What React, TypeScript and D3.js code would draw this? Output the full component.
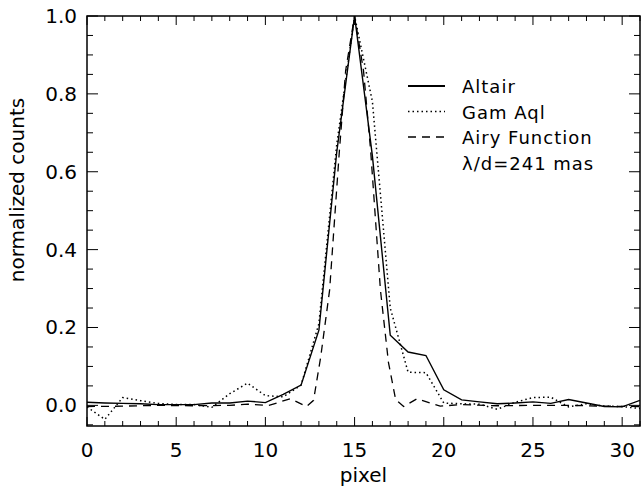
import React from 'react';
import * as d3 from 'd3';

// pixel index 0..31
const pixels = d3.range(0, 32);

// Altair (solid)
const altair = [
  0.008, 0.006, 0.005, 0.004, 0.002, 0.002, 0.002, 0.006, 0.006, 0.011,
  0.007, 0.028, 0.052, 0.193, 0.65, 1.0, 0.64, 0.18, 0.137, 0.128,
  0.04, 0.014, 0.009, 0.004, 0.006, 0.009, 0.005, 0.015, 0.006, -0.003,
  -0.004, 0.013,
];

// Gam Aql (dotted)
const gamAql = [
  -0.004, -0.036, 0.02, 0.012, 0.005, 0.002, 0.002, -0.005, 0.03, 0.057,
  0.025, 0.022, 0.052, 0.21, 0.67, 1.0, 0.78, 0.25, 0.085, 0.084,
  0.006, 0.004, 0.003, -0.01, 0.008, 0.02, 0.021, -0.004, 0.004, -0.002,
  -0.003, -0.008,
];

// Airy function (dashed), sampled finer than the pixels
const airyX = [
  0, 2, 4, 6, 8, 9, 10.2, 11.4, 12.3, 12.7, 13.1, 13.6, 14.15, 14.5, 15,
  15.5, 15.9, 16.45, 16.9, 17.3, 17.75, 18.5, 19.8, 21, 23, 25, 27, 29, 31,
];
const airyY = [
  -0.003, -0.002, 0.0, -0.001, 0.0, 0.003, 0.0, 0.017, -0.003, 0.013, 0.124,
  0.296, 0.655, 0.86, 1.0, 0.86, 0.655, 0.296, 0.11, 0.015, -0.003, 0.017,
  -0.002, 0.002, -0.001, 0.0, 0.0, -0.002, -0.003,
];

const xMajor = [0, 5, 10, 15, 20, 25, 30];
const yMajor = [0, 0.2, 0.4, 0.6, 0.8, 1.0];
const yLabels = ['0.0', '0.2', '0.4', '0.6', '0.8', '1.0'];

const legendItems = [
  { label: 'Altair', dash: 'none' },
  { label: 'Gam Aql', dash: '1.5,3' },
  { label: 'Airy Function', dash: '8,6' },
];

const W = 641;
const H = 489;
const font = '"DejaVu Sans", sans-serif';

export default function App() {
  const x = d3.scaleLinear().domain([0, 31]).range([87, 640]);
  const y = d3.scaleLinear().domain([-0.053, 1.0]).range([426, 16]);
  const [x0, x1] = x.range();
  const [y0, y1] = y.range();

  const line = d3
    .line<[number, number]>()
    .x((d) => x(d[0]))
    .y((d) => y(d[1]));

  const altairPath = line(pixels.map((p, i) => [p, altair[i]]));
  const gamPath = line(pixels.map((p, i) => [p, gamAql[i]]));
  const airyPath = line(airyX.map((p, i) => [p, airyY[i]]));

  const xMinor = d3.range(0, 32).filter((v) => v % 5 !== 0);
  const yMinor = d3.range(-1, 21).map((k) => k * 0.05).filter((v) => Math.abs(v * 5 - Math.round(v * 5)) > 1e-6);

  return (
    <svg width={W} height={H} style={{ position: 'absolute', left: 0, top: 0, background: '#fff' }}>
      <clipPath id="plot">
        <rect x={x0} y={y1} width={x1 - x0} height={y0 - y1} />
      </clipPath>

      {/* ticks */}
      <g stroke="#000" strokeWidth={1}>
        {xMajor.map((v) => (
          <g key={'xm' + v}>
            <line x1={x(v)} x2={x(v)} y1={y0} y2={y0 - 9} />
            <line x1={x(v)} x2={x(v)} y1={y1} y2={y1 + 9} />
          </g>
        ))}
        {xMinor.map((v) => (
          <g key={'xn' + v}>
            <line x1={x(v)} x2={x(v)} y1={y0} y2={y0 - 5} />
            <line x1={x(v)} x2={x(v)} y1={y1} y2={y1 + 5} />
          </g>
        ))}
        {yMajor.map((v) => (
          <g key={'ym' + v}>
            <line x1={x0} x2={x0 + 11} y1={y(v)} y2={y(v)} />
            <line x1={x1} x2={x1 - 11} y1={y(v)} y2={y(v)} />
          </g>
        ))}
        {yMinor.map((v) => (
          <g key={'yn' + v}>
            <line x1={x0} x2={x0 + 6} y1={y(v)} y2={y(v)} />
            <line x1={x1} x2={x1 - 6} y1={y(v)} y2={y(v)} />
          </g>
        ))}
      </g>

      {/* frame */}
      <rect x={x0} y={y1} width={x1 - x0} height={y0 - y1} fill="none" stroke="#000" strokeWidth={1.5} />

      {/* data */}
      <g clipPath="url(#plot)" fill="none" stroke="#000">
        <path d={altairPath!} strokeWidth={1.4} />
        <path d={gamPath!} strokeWidth={1.5} strokeDasharray="1.5,3" />
        <path d={airyPath!} strokeWidth={1.3} strokeDasharray="8,6" />
      </g>

      {/* tick labels */}
      <g fontFamily={font} fontSize={20} fill="#000">
        {xMajor.map((v) => (
          <text key={'xl' + v} x={x(v)} y={457} textAnchor="middle">
            {v}
          </text>
        ))}
        {yMajor.map((v, i) => (
          <text key={'yl' + v} x={77} y={y(v) + 7} textAnchor="end">
            {yLabels[i]}
          </text>
        ))}
        <text x={(x0 + x1) / 2} y={482} textAnchor="middle">
          pixel
        </text>
        <text transform="translate(24,190) rotate(-90)" textAnchor="middle">
          normalized counts
        </text>
      </g>

      {/* legend */}
      <g fontFamily={font} fontSize={18} letterSpacing={1} fill="#000">
        {legendItems.map((it, i) => (
          <g key={it.label}>
            <line
              x1={408}
              x2={445}
              y1={86 + i * 25.5}
              y2={86 + i * 25.5}
              stroke="#000"
              strokeWidth={it.dash === 'none' ? 2 : 1.3}
              strokeDasharray={it.dash}
            />
            <text x={462} y={93 + i * 25.5}>
              {it.label}
            </text>
          </g>
        ))}
        <text x={462} y={169.5}>
          λ/d=241 mas
        </text>
      </g>
    </svg>
  );
}
